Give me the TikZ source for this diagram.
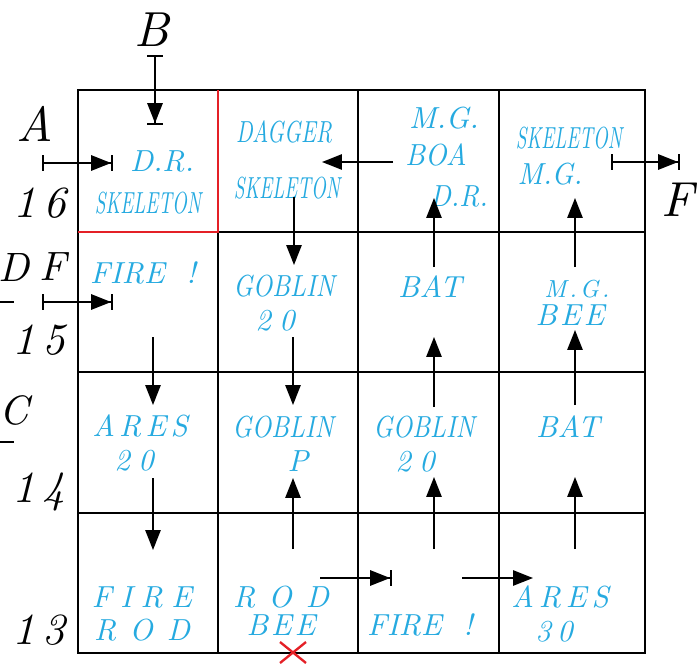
\documentclass[tikz,border=0pt]{standalone}
\usepackage{fontspec}
\setmainfont{lmroman10}[Extension=.otf, UprightFont=*-regular, ItalicFont=*-italic, BoldFont=*-bold, BoldItalicFont=*-bolditalic]
\usepackage{xcolor}
\usetikzlibrary{arrows.meta}

\definecolor{roomcyan}{RGB}{38,170,224}
\definecolor{wallred}{RGB}{228,32,38}

\newcommand{\roomfont}{\fontsize{26}{28}\selectfont\itshape}
\newcommand{\bigtagfont}{\fontsize{42}{44}\selectfont\itshape}
\newcommand{\sidetagfont}{\fontsize{35}{37}\selectfont\itshape}
\newcommand{\floorfont}{\fontsize{38}{40}\selectfont\itshape\addfontfeature{LetterSpace=15}}
\newcommand{\roomspread}[1]{\addfontfeature{LetterSpace=#1}}
\newcommand{\roomsqueeze}[1]{\addfontfeature{FakeStretch=#1}}

\begin{document}
\begin{tikzpicture}[x=0.03cm, y=-0.03cm,
    wall/.style={line width=2.4pt},
    room/.style={text=roomcyan, inner sep=0pt, font=\roomfont},
    bigtag/.style={inner sep=0pt, font=\bigtagfont},
    sidetag/.style={inner sep=0pt, font=\sidetagfont},
    floortag/.style={inner sep=0pt, font=\floorfont},
    flow/.style={line width=1.6pt, -{Triangle[length=17pt,width=13pt]}},
    gate/.style={line width=1.6pt, {Bar[width=13pt]}-{Triangle[length=17pt,width=13pt,sep=0pt]Bar[width=13pt]}}]
  \useasboundingbox (0,0) rectangle (697,663);

  % Grid of rooms
  \draw[wall] (78,90) rectangle (645,653);
  \foreach \x in {218,358,499} \draw[wall] (\x,90) -- (\x,653);
  \foreach \y in {232,372,513} \draw[wall] (78,\y) -- (645,\y);
  \draw[wall, wallred, line join=miter] (78,232) -- (218,232) -- (218,90);

  % Outside letters and floor numbers
  \node[bigtag] (tB) at (152,30) {B};
  \node[bigtag] (tA) at (35,124) {A};
  \node[bigtag] (tFr) at (678,200) {F};
  \node[sidetag] (tD) at (14,267) {D};
  \node[sidetag] (tFl) at (53,267) {F};
  \node[sidetag] (tC) at (14,410) {C};
  \draw[line width=1.6pt] (0,302) -- (14,302);
  \draw[line width=1.6pt] (0,442) -- (14,442);
  \node[floortag] (f16) at (40,203) {16};
  \node[floortag] (f15) at (39,340) {15};
  \node[floortag] (f14) at (39,492) {14};
  \node[floortag] (f13) at (39,630) {13};

  % Floor 16
  \node[room] (c11a) at (162,161) {D.R.};
  \node[room, font=\roomfont\roomsqueeze{0.63}] (c11b) at (148,203) {SKELETON};
  \node[room, font=\roomfont\roomsqueeze{0.72}] (c12a) at (284,132) {DAGGER};
  \node[room, font=\roomfont\roomsqueeze{0.63}] (c12b) at (287,188) {SKELETON};
  \node[room] (c13a) at (444,118) {M.G.};
  \node[room, font=\roomfont\roomsqueeze{0.92}] (c13b) at (436,155) {BOA};
  \node[room, font=\roomfont\roomsqueeze{0.9}] (c13c) at (459,196) {D.R.};
  \node[room, font=\roomfont\roomsqueeze{0.63}] (c14a) at (569,138) {SKELETON};
  \node[room, font=\roomfont\roomsqueeze{0.93}] (c14b) at (550,174) {M.G.};

  % Floor 15
  \node[room] (c21) at (143,273) {FIRE~~!};
  \node[room, font=\roomfont\roomsqueeze{0.83}] (c22a) at (284,286) {GOBLIN};
  \node[room, font=\roomfont\roomspread{27}] (c22b) at (275,321) {20};
  \node[room] (c23) at (430,287) {BAT};
  \node[room, font=\fontsize{21}{23}\selectfont\itshape\roomspread{12}] (c24a) at (577,289) {M.G.};
  \node[room, font=\roomfont\roomspread{10}] (c24b) at (570,315) {BEE};

  % Floor 14
  \node[room, font=\roomfont\roomspread{14}] (c31a) at (140,426) {ARES};
  \node[room, font=\roomfont\roomspread{27}] (c31b) at (134,461) {20};
  \node[room, font=\roomfont\roomsqueeze{0.83}] (c32a) at (283,427) {GOBLIN};
  \node[room] (c32b) at (298,461) {P};
  \node[room, font=\roomfont\roomsqueeze{0.83}] (c33a) at (424,427) {GOBLIN};
  \node[room, font=\roomfont\roomspread{27}] (c33b) at (415,462) {20};
  \node[room] (c34) at (568,427) {BAT};

  % Floor 13
  \node[room, font=\roomfont\roomspread{28}] (c41a) at (142,597) {FIRE};
  \node[room, font=\roomfont\roomspread{46}] (c41b) at (142,630) {ROD};
  \node[room, font=\roomfont\roomspread{46}] (c42a) at (281,597) {ROD};
  \node[room, font=\roomfont\roomspread{10}] (c42b) at (281,625) {BEE};
  \node[room] (c43) at (420,625) {FIRE~~!};
  \node[room, font=\roomfont\roomspread{16}] (c44a) at (560,597) {ARES};
  \node[room, font=\roomfont\roomspread{20}] (c44b) at (554,632) {30};

  % Entrances and exits
  \coordinate (gB0) at (155,55);   \coordinate (gB1) at (155,125);
  \coordinate (gA0) at (42,163);   \coordinate (gA1) at (113,163);
  \coordinate (gF0) at (42,302);   \coordinate (gF1) at (113,302);
  \coordinate (gE0) at (611,162);  \coordinate (gE1) at (680,162);
  \draw[gate] (gB0) -- (gB1);
  \draw[gate] (gA0) -- (gA1);
  \draw[gate] (gF0) -- (gF1);
  \draw[gate] (gE0) -- (gE1);

  % Path through the rooms
  \foreach \n/\x/\ya/\yb in {1/294/197/265, 2/434/267/198, 3/575/267/198,
      4/153/337/405, 5/293/337/405, 6/434/407/337, 7/575/405/330,
      8/153/478/550, 9/293/549/478, 10/434/549/477, 11/575/549/477}{
    \coordinate (p\n a) at (\x,\ya);
    \coordinate (p\n b) at (\x,\yb);
    \draw[flow] (p\n a) -- (p\n b);
  }
  \coordinate (h1a) at (393,162); \coordinate (h1b) at (322,162);
  \coordinate (h2a) at (320,578); \coordinate (h2b) at (392,578);
  \coordinate (h3a) at (462,578); \coordinate (h3b) at (533,578);
  \draw[flow] (h1a) -- (h1b);
  \draw[line width=1.6pt, -{Triangle[length=17pt,width=13pt,sep=0pt]Bar[width=13pt]}] (h2a) -- (h2b);
  \draw[flow] (h3a) -- (h3b);

  % Cross under ROD BEE
  \draw[wallred, line width=2pt] (280,642) -- (306,663) (280,663) -- (306,642);
\end{tikzpicture}
\end{document}
